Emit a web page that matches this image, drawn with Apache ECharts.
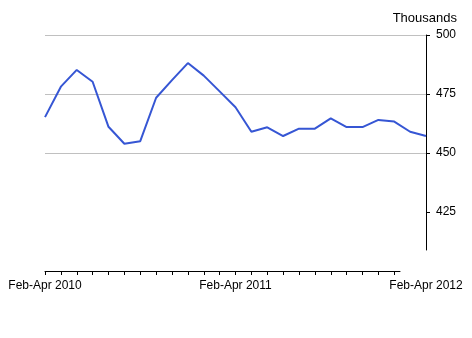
<!DOCTYPE html>
<html>
<head>
<meta charset="utf-8">
<script src="https://cdn.jsdelivr.net/npm/echarts@6/dist/echarts.min.js"></script>
<style>
html,body{margin:0;padding:0;background:#fff;}
#c{width:472px;height:338px;}
</style>
</head>
<body>
<div id="c"></div>
<script>
var categories = [
  "Feb-Apr 2010","Mar-May 2010","Apr-Jun 2010","May-Jul 2010","Jun-Aug 2010","Jul-Sep 2010",
  "Aug-Oct 2010","Sep-Nov 2010","Oct-Dec 2010","Nov-Jan 2011","Dec-Feb 2011","Jan-Mar 2011",
  "Feb-Apr 2011","Mar-May 2011","Apr-Jun 2011","May-Jul 2011","Jun-Aug 2011","Jul-Sep 2011",
  "Aug-Oct 2011","Sep-Nov 2011","Oct-Dec 2011","Nov-Jan 2012","Dec-Feb 2012","Jan-Mar 2012",
  "Feb-Apr 2012"
];
var values = [
  465.2, 478.1, 485.2, 480.2, 461.1, 453.9, 455.0, 473.4, 480.9, 488.1, 482.8, 476.1,
  469.4, 459.0, 460.9, 457.2, 460.3, 460.3, 464.7, 461.0, 461.0, 464.0, 463.3, 459.0,
  457.2
];
var yTicks = [425, 450, 475, 500];
var unitLabel = "Thousands";

var FONT = "Liberation Sans";
var chart = echarts.init(document.getElementById('c'), null, {renderer: 'canvas'});
chart.setOption({
  animation: false,
  backgroundColor: '#ffffff',
  title: {
    text: unitLabel, right: 10, top: 7,
    textStyle: {fontFamily: FONT, fontSize: 13, fontWeight: 'normal', color: '#000'}
  },
  grid: [
    {left: 45, right: 46, top: 35, bottom: 67},
    {left: 45, right: 72, top: 35, bottom: 67},
    {left: 45, right: 46, top: 35, bottom: 88}
  ],
  xAxis: [
    {
      gridIndex: 0, type: 'category', data: categories, boundaryGap: false,
      axisLine: {show: false},
      axisTick: {show: true, length: 4, inside: false,
        interval: function (i) { return i <= 22; },
        lineStyle: {color: '#000', width: 1}},
      axisLabel: {
        interval: function (i) { return i % 12 === 0; },
        margin: 9, fontFamily: FONT, fontSize: 12, color: '#000'
      },
      splitLine: {show: false}
    },
    {
      gridIndex: 1, type: 'value', min: 0, max: 1,
      axisLine: {show: true, onZero: false, lineStyle: {color: '#000', width: 1}},
      axisTick: {show: false}, axisLabel: {show: false}, splitLine: {show: false}
    },
    {gridIndex: 2, type: 'value', min: 0, max: 1, show: false}
  ],
  yAxis: [
    {
      gridIndex: 0, type: 'value', position: 'right', min: 400, max: 500, interval: 25,
      axisLine: {show: false},
      axisTick: {show: true, length: 4, customValues: yTicks, lineStyle: {color: '#000'}},
      axisLabel: {customValues: yTicks, margin: 10, fontFamily: FONT, fontSize: 12, color: '#000'},
      splitLine: {show: true, lineStyle: {color: ['#ffffff', '#c0c0c0', '#c0c0c0', '#c0c0c0', '#c0c0c0'], width: 1}}
    },
    {gridIndex: 1, type: 'value', show: false},
    {
      gridIndex: 2, type: 'value', position: 'right', min: 0, max: 1,
      axisLine: {show: true, onZero: false, lineStyle: {color: '#000', width: 1}},
      axisTick: {show: false}, axisLabel: {show: false}, splitLine: {show: false}
    }
  ],
  series: [{
    type: 'line', xAxisIndex: 0, yAxisIndex: 0, data: values,
    showSymbol: false, symbol: 'none', smooth: false,
    lineStyle: {color: '#3656d4', width: 2},
    z: 5
  }]
});
</script>
</body>
</html>
